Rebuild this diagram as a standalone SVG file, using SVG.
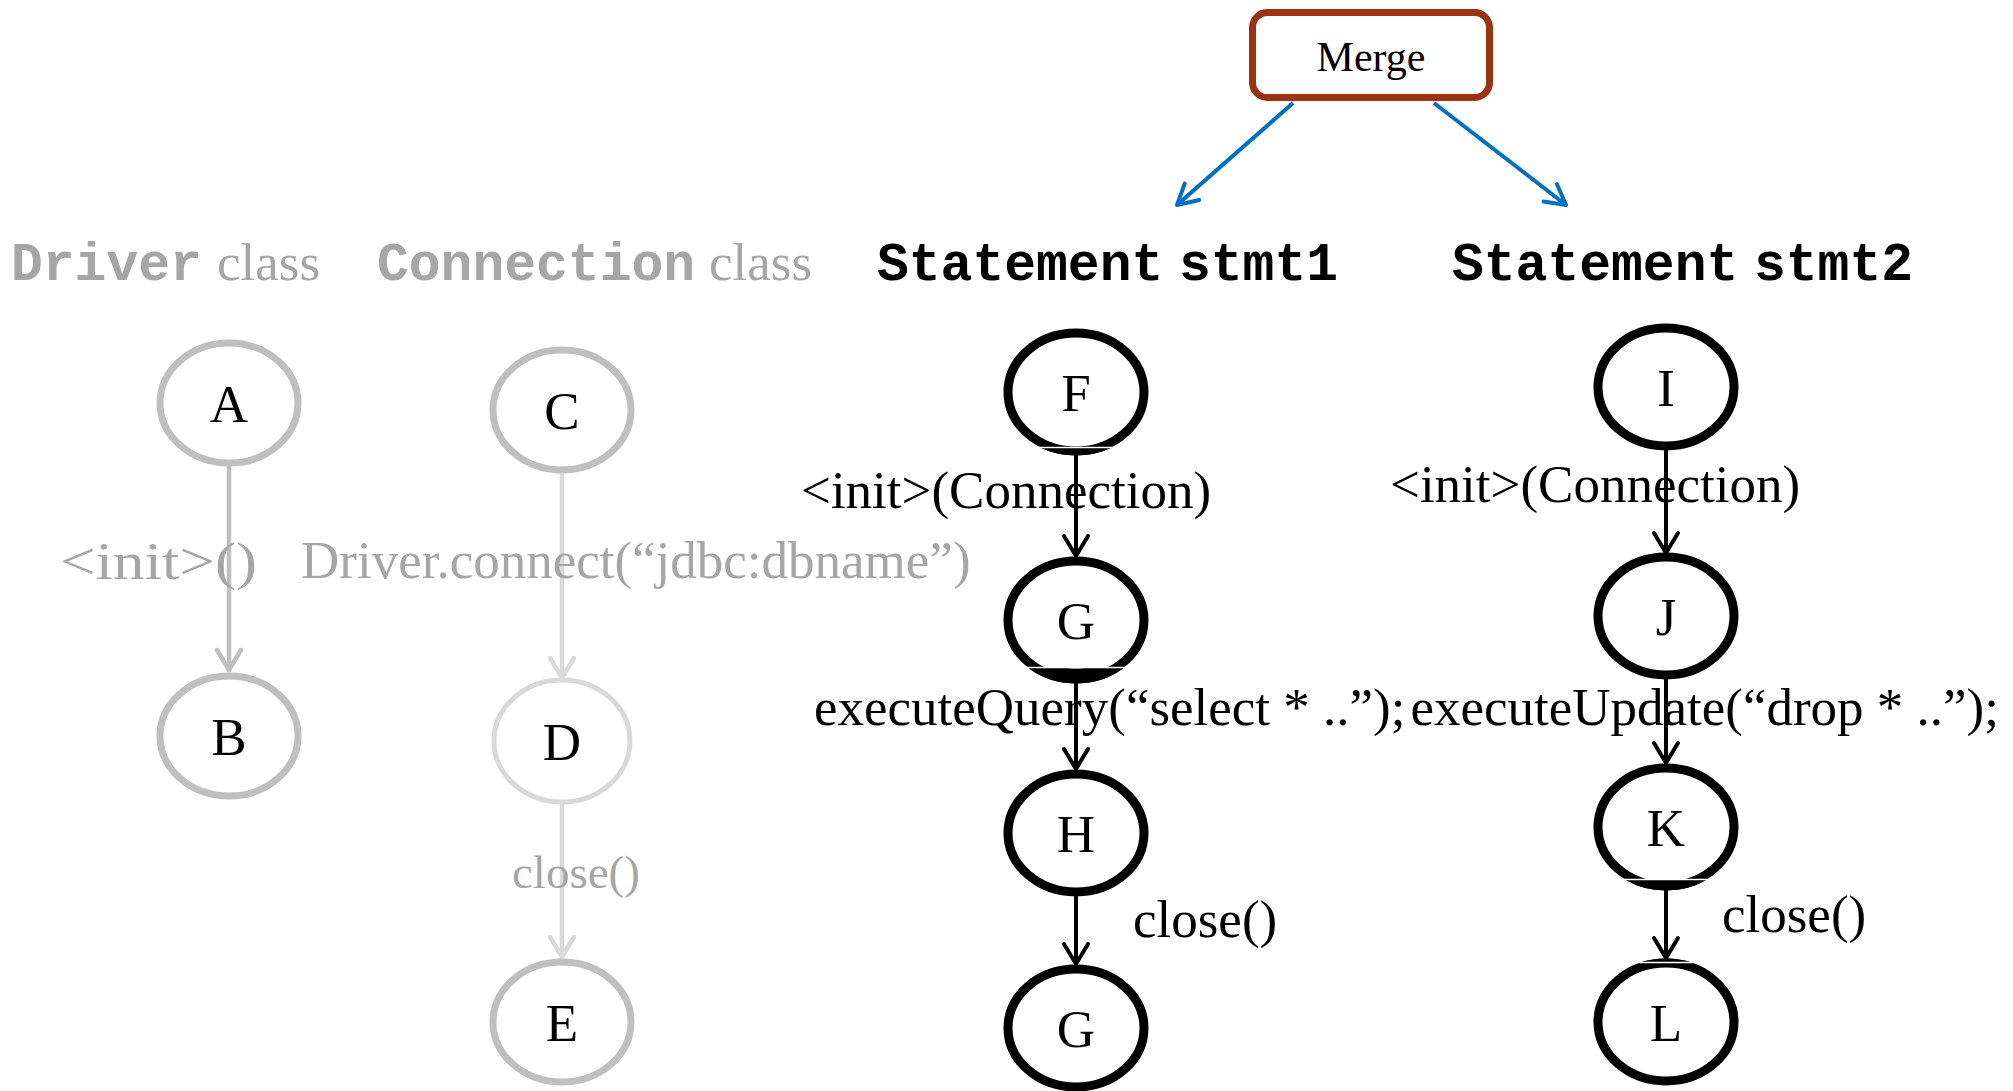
<svg xmlns="http://www.w3.org/2000/svg" width="2013" height="1091" viewBox="0 0 2013 1091">
  <style>
    .mono { font-family: "Liberation Mono", "Courier New", monospace; font-weight: bold; font-size: 53px; }
    .serif { font-family: "Liberation Serif", "Times New Roman", serif; font-size: 53px; }
    .gray { fill: #A6A6A6; }
    .blk { fill: #000000; }
    .node-letter { font-family: "Liberation Serif", "Times New Roman", serif; font-size: 53px; fill: #000; text-anchor: middle; }
    .n-gray { fill: #FFFFFF; stroke: #BFBFBF; stroke-width: 7; }
    .n-light { fill: #FFFFFF; stroke: #D9D9D9; stroke-width: 5; }
    .n-black { fill: #FFFFFF; stroke: #000000; stroke-width: 9; }
    .n-thick { fill: none; stroke: #000000; stroke-width: 15; }
    .cut { stroke: #FFFFFF; stroke-width: 1.6; }
    .e-gray { fill: none; stroke: #BFBFBF; stroke-width: 4.5; }
    .e-light { fill: none; stroke: #D9D9D9; stroke-width: 4.5; }
    .e-black { fill: none; stroke: #000000; stroke-width: 4; }
    .e-blue { fill: none; stroke: #0070C0; stroke-width: 4; }
  </style>
  <defs>
    <marker id="ah-gray" markerUnits="userSpaceOnUse" viewBox="-24 -16 28 32" markerWidth="28" markerHeight="32" refX="0" refY="0" orient="auto">
      <path d="M-20,-12 L0,0 L-20,12" fill="none" stroke="#BFBFBF" stroke-width="4.5" stroke-linecap="round" stroke-linejoin="round"/>
    </marker>
    <marker id="ah-light" markerUnits="userSpaceOnUse" viewBox="-24 -16 28 32" markerWidth="28" markerHeight="32" refX="0" refY="0" orient="auto">
      <path d="M-20,-12 L0,0 L-20,12" fill="none" stroke="#D9D9D9" stroke-width="4.5" stroke-linecap="round" stroke-linejoin="round"/>
    </marker>
    <marker id="ah-black" markerUnits="userSpaceOnUse" viewBox="-24 -16 28 32" markerWidth="28" markerHeight="32" refX="0" refY="0" orient="auto">
      <path d="M-20,-12 L0,0 L-20,12" fill="none" stroke="#000000" stroke-width="4" stroke-linecap="round" stroke-linejoin="round"/>
    </marker>
    <marker id="ah-blue" markerUnits="userSpaceOnUse" viewBox="-24 -16 28 32" markerWidth="28" markerHeight="32" refX="0" refY="0" orient="auto">
      <path d="M-20,-11 L0,0 L-20,11" fill="none" stroke="#0070C0" stroke-width="4" stroke-linecap="round" stroke-linejoin="round"/>
    </marker>
    <!-- bands where the label boxes overlap the node outlines -->
    <clipPath id="clip-F"><rect x="1000" y="448" width="160" height="20"/></clipPath>
    <clipPath id="clip-G"><rect x="1000" y="668" width="160" height="30"/></clipPath>
    <clipPath id="clip-K"><rect x="1590" y="880" width="160" height="20"/></clipPath>
    <clipPath id="clip-L"><rect x="1590" y="950" width="160" height="12"/></clipPath>
  </defs>

  <rect width="2013" height="1091" fill="#FFFFFF"/>

  <!-- column headings -->
  <g id="headings">
    <text y="280"><tspan class="mono gray" x="11">Driver</tspan><tspan class="serif gray" x="217">class</tspan></text>
    <text y="280"><tspan class="mono gray" x="377">Connection</tspan><tspan class="serif gray" x="709">class</tspan></text>
    <text y="280"><tspan class="mono blk" x="877">Statement</tspan><tspan class="mono blk" x="1179">stmt1</tspan></text>
    <text y="280"><tspan class="mono blk" x="1452">Statement</tspan><tspan class="mono blk" x="1754">stmt2</tspan></text>
  </g>

  <!-- connectors -->
  <g id="connectors">
    <line class="e-blue" x1="1293" y1="103" x2="1177" y2="205" marker-end="url(#ah-blue)"/>
    <line class="e-blue" x1="1434" y1="103" x2="1566" y2="205" marker-end="url(#ah-blue)"/>

    <line class="e-gray" x1="229" y1="466" x2="229" y2="670" marker-end="url(#ah-gray)"/>
    <line class="e-light" x1="562" y1="474" x2="562" y2="678" marker-end="url(#ah-light)"/>
    <line class="e-light" x1="562" y1="804" x2="562" y2="957" marker-end="url(#ah-light)"/>

    <line class="e-black" x1="1076" y1="455" x2="1076" y2="556" marker-end="url(#ah-black)"/>
    <line class="e-black" x1="1076" y1="683" x2="1076" y2="769" marker-end="url(#ah-black)"/>
    <line class="e-black" x1="1076" y1="896" x2="1076" y2="964" marker-end="url(#ah-black)"/>
    <line class="e-black" x1="1666" y1="450" x2="1666" y2="553" marker-end="url(#ah-black)"/>
    <line class="e-black" x1="1666" y1="679" x2="1666" y2="763" marker-end="url(#ah-black)"/>
    <line class="e-black" x1="1666" y1="890" x2="1666" y2="958" marker-end="url(#ah-black)"/>
  </g>

  <!-- edge labels -->
  <g id="edge-labels">
    <text class="serif gray" x="60" y="579" textLength="197" lengthAdjust="spacingAndGlyphs">&lt;init&gt;()</text>
    <text class="serif gray" x="301" y="578">Driver.connect(“jdbc:dbname”)</text>
    <text class="serif gray" x="512" y="888" style="font-size:47px">close()</text>
    <text class="serif blk" x="801" y="508">&lt;init&gt;(Connection)</text>
    <text class="serif blk" x="1390" y="502">&lt;init&gt;(Connection)</text>
    <text class="serif blk" x="814" y="725">executeQuery(“select * ..”);</text>
    <text class="serif blk" x="1999" y="725" text-anchor="end">executeUpdate(“drop * ..”);</text>
    <text class="serif blk" x="1133" y="937">close()</text>
    <text class="serif blk" x="1722" y="932">close()</text>
  </g>

  <!-- Merge node -->
  <g id="node-merge">
    <rect x="1252.5" y="12.5" width="237" height="85" rx="15" fill="#FFFFFF" stroke="#993311" stroke-width="7"/>
    <text x="1371" y="71" text-anchor="middle" style="font-family:'Liberation Serif','Times New Roman',serif;font-size:42px;fill:#000">Merge</text>
  </g>

  <!-- Driver class nodes -->
  <g id="node-A"><ellipse class="n-gray" cx="229" cy="403" rx="69" ry="60"/><text class="node-letter" x="229" y="422">A</text></g>
  <g id="node-B"><ellipse class="n-gray" cx="229" cy="736" rx="69" ry="60"/><text class="node-letter" x="229" y="755">B</text></g>

  <!-- Connection class nodes -->
  <g id="node-C"><ellipse class="n-gray" cx="562" cy="410" rx="69" ry="60"/><text class="node-letter" x="562" y="429">C</text></g>
  <g id="node-D"><ellipse class="n-light" cx="562" cy="741" rx="68" ry="61"/><text class="node-letter" x="562" y="760">D</text></g>
  <g id="node-E"><ellipse class="n-gray" cx="562" cy="1022" rx="69" ry="60"/><text class="node-letter" x="562" y="1041">E</text></g>

  <!-- stmt1 nodes -->
  <g id="node-F">
    <ellipse class="n-black" cx="1076" cy="392" rx="68" ry="59"/>
    <ellipse class="n-thick" cx="1076" cy="392" rx="65" ry="56" clip-path="url(#clip-F)"/>
    <line class="cut" x1="1033" y1="447.5" x2="1117" y2="447.5"/>
    <text class="node-letter" x="1076" y="411">F</text>
  </g>
  <g id="node-G">
    <ellipse class="n-black" cx="1076" cy="620" rx="68" ry="59"/>
    <ellipse class="n-thick" cx="1076" cy="620" rx="65" ry="56" clip-path="url(#clip-G)"/>
    <line class="cut" x1="1021" y1="667.5" x2="1130" y2="667.5"/>
    <text class="node-letter" x="1076" y="639">G</text>
  </g>
  <g id="node-H"><ellipse class="n-black" cx="1076" cy="833" rx="68" ry="59"/><text class="node-letter" x="1076" y="852">H</text></g>
  <g id="node-G2"><ellipse class="n-black" cx="1076" cy="1028" rx="68" ry="59"/><text class="node-letter" x="1076" y="1047">G</text></g>

  <!-- stmt2 nodes -->
  <g id="node-I"><ellipse class="n-black" cx="1666" cy="387" rx="68" ry="59"/><text class="node-letter" x="1666" y="406">I</text></g>
  <g id="node-J"><ellipse class="n-black" cx="1666" cy="616" rx="68" ry="59"/><text class="node-letter" x="1666" y="635">J</text></g>
  <g id="node-K">
    <ellipse class="n-black" cx="1666" cy="827" rx="68" ry="59"/>
    <ellipse class="n-thick" cx="1666" cy="827" rx="65" ry="56" clip-path="url(#clip-K)"/>
    <line class="cut" x1="1621" y1="879.5" x2="1710" y2="879.5"/>
    <text class="node-letter" x="1666" y="846">K</text>
  </g>
  <g id="node-L">
    <ellipse class="n-black" cx="1666" cy="1022" rx="68" ry="59"/>
    <ellipse class="n-thick" cx="1666" cy="1022" rx="65" ry="56" clip-path="url(#clip-L)"/>
    <line class="cut" x1="1636" y1="962.5" x2="1696" y2="962.5"/>
    <text class="node-letter" x="1666" y="1041">L</text>
  </g>
</svg>
